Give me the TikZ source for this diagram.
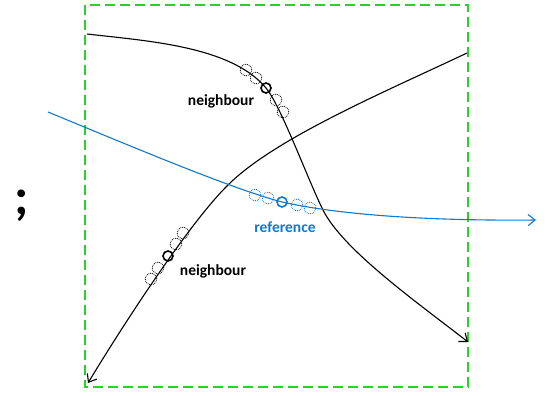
\documentclass[tikz,border=0pt]{standalone}
\usepackage{fontspec}
\setmainfont{Carlito}
\usetikzlibrary{arrows.meta}

\begin{document}
\begin{tikzpicture}[x=1pt,y=-1pt,
    ring/.style={circle,draw,line width=1.6pt,minimum size=10pt,inner sep=0pt},
    ghost/.style={circle,draw,densely dotted,line width=0.8pt,minimum size=11.5pt,inner sep=0pt},
    track/.style={line width=1.1pt,-{Straight Barb[length=7pt,width=11pt]}},
    lbl/.style={font=\fontsize{15.5}{18}\selectfont\bfseries}]
  \definecolor{cbox}{RGB}{40,210,40}
  \definecolor{cref}{RGB}{20,120,200}
  \useasboundingbox (0,0) rectangle (549,396);
  % search window
  \draw[cbox,line width=2pt,dash pattern=on 10pt off 5pt] (85,5) rectangle (468,387);
  % neighbour tracks
  \draw[track] (87,34) .. controls (147,41) and (231,46) .. (266,88)
    .. controls (281,106) and (308,180) .. (323,210)
    .. controls (343,250) and (418,303) .. (468,342);
  \draw[track] (467,53) .. controls (387,91) and (275,138) .. (228,185)
    .. controls (190,222) and (123,325) .. (88,383);
  % reference track
  \draw[track,cref] (48,112) .. controls (128,145) and (232,189) .. (282,202)
    .. controls (340,215) and (430,221) .. (536,220);
  % points
  \node[ring] (nbA) at (266,88) {};
  \node[ring] (nbB) at (168,256) {};
  \node[ring,cref] (refpt) at (282,202) {};
  \foreach \px/\py [count=\i] in {246/70,256/78,276/100,283/112,183/233,176/244,158/268,151/279}{%
    \node[ghost] (g\i) at (\px,\py) {};
  }
  \foreach \px/\py [count=\i] in {255/195,268/198,297/205,310/208}{%
    \node[ghost,cref] (r\i) at (\px,\py) {};
  }
  \node[lbl] (labA) at (221,101) {neighbour};
  \node[lbl] (labB) at (213,271) {neighbour};
  \node[lbl,text=cref] (labR) at (285,227) {reference};
  \node[font=\fontsize{52}{60}\selectfont\bfseries,anchor=base] (semi) at (22,214) {;};
\end{tikzpicture}
\end{document}
